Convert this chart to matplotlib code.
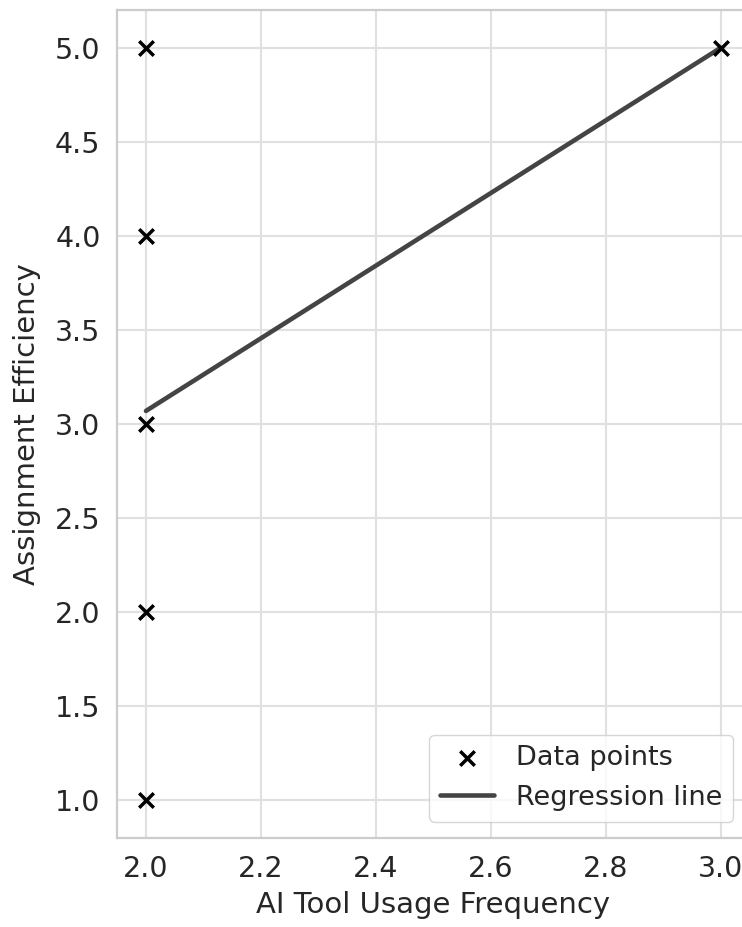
import numpy as np
import matplotlib.pyplot as plt
import seaborn as sns

# Survey responses
usage = [2, 2, 2, 2, 2, 3]
efficiency = [1, 2, 3, 4, 5, 5]

# Fitted regression line end points
reg_x = [2.0, 3.0]
reg_y = [3.07, 5.0]

sns.set_theme(style="whitegrid")
plt.rcParams['font.family'] = ['DejaVu Sans']

fig = plt.figure(figsize=(7.42, 9.27), dpi=100)
ax = fig.add_axes([0.158, 0.096, 0.852, 0.893])

ax.scatter(usage, efficiency, marker='x', color='black', s=110, linewidths=2.5,
           label='Data points', zorder=3)
ax.plot(reg_x, reg_y, color='#444444', linewidth=3.3, label='Regression line', zorder=2)

ax.set_xlim(1.95, 3.05)
ax.set_ylim(0.8, 5.2)
ax.set_xticks(np.arange(2.0, 3.01, 0.2))
ax.set_yticks(np.arange(1.0, 5.01, 0.5))
ax.tick_params(labelsize=20.5, colors='#262626', pad=6)
ax.set_xlabel("AI Tool Usage Frequency", fontsize=21, color='#262626', labelpad=6)
ax.set_ylabel("Assignment Efficiency", fontsize=21, color='#262626', labelpad=10)
for s in ax.spines.values():
    s.set_color('#cccccc')
    s.set_linewidth(1.6)
ax.grid(color='#e0e0e0', linewidth=1.5)

ax.legend(loc='lower right', fontsize=19.5, frameon=True, borderaxespad=0.6)

fig.savefig('out.png', dpi=100)
